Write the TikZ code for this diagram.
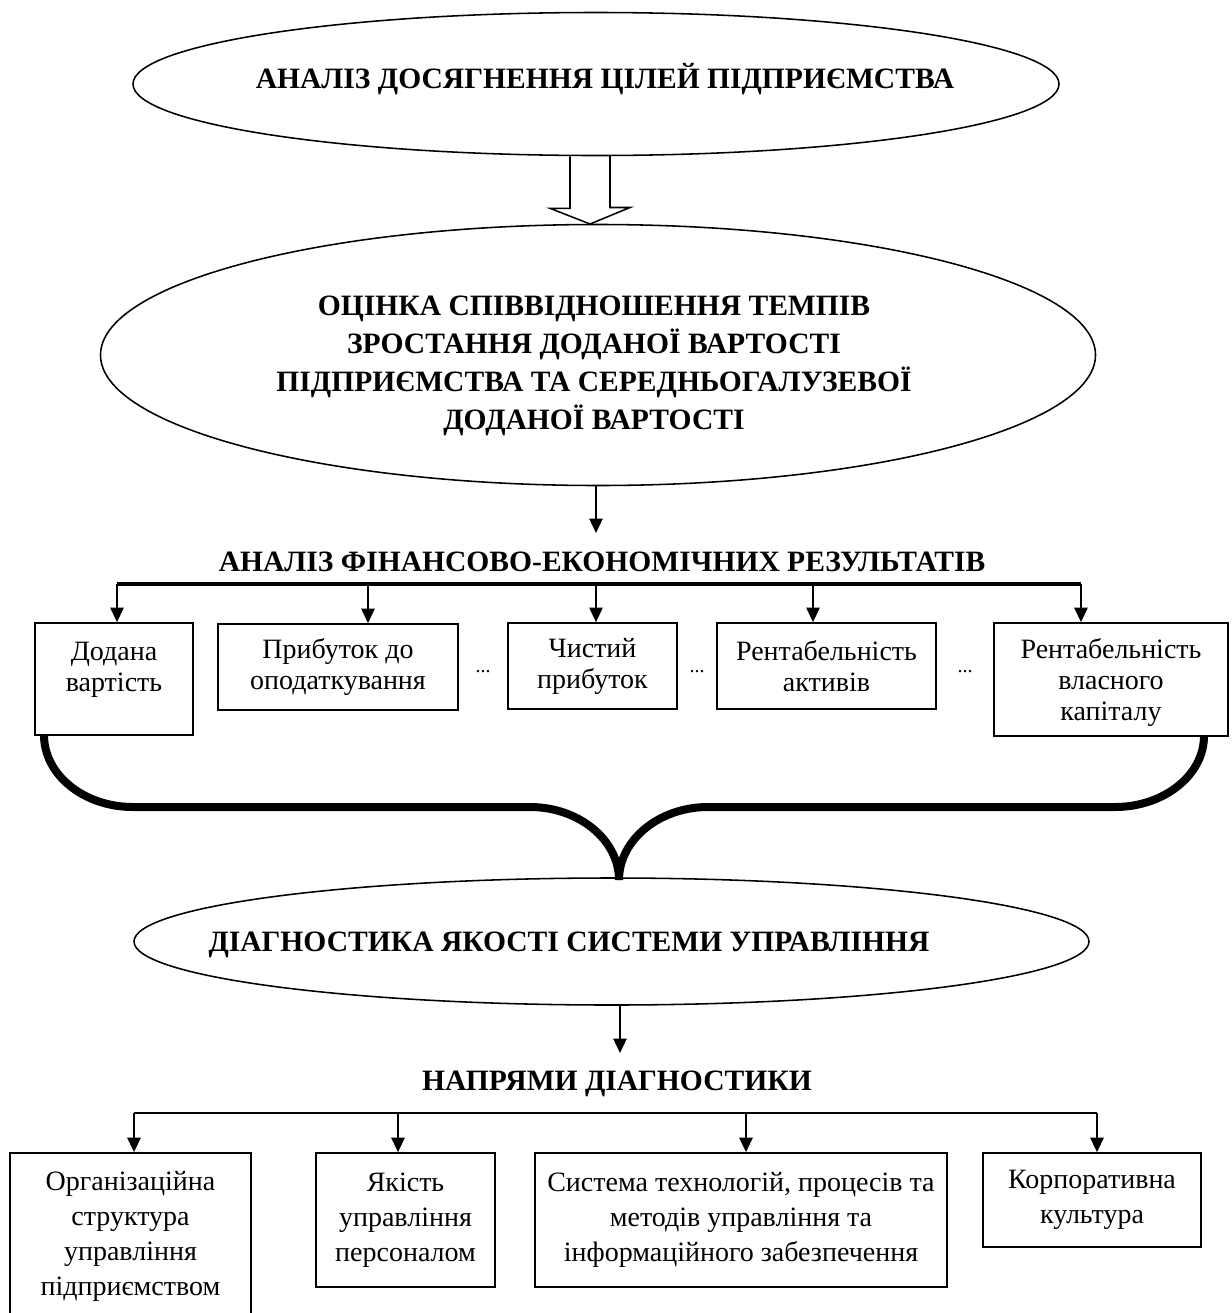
\documentclass[tikz,border=0pt]{standalone}
\usepackage{fontspec}
\setmainfont{Liberation Serif}[BoldFont={Liberation Serif Bold}]
\usetikzlibrary{arrows.meta,shapes.geometric}

\begin{document}
\begin{tikzpicture}[x=0.45pt,y=-0.45pt,>={Triangle[width=6pt,length=6.5pt]},
  line width=0.7pt,
  oval/.style={ellipse,draw,inner sep=0pt},
  head/.style={font=\fontsize{13.3}{17.1}\selectfont\bfseries,align=center,inner sep=0pt},
  boxa/.style={draw,line width=0.8pt,align=center,inner sep=0pt,
    font=\fontsize{12.6}{14}\selectfont},
  boxb/.style={boxa,font=\fontsize{12.6}{15.8}\selectfont},
  dots/.style={font=\fontsize{9}{9}\selectfont,inner sep=0pt},
  brace/.style={line width=3.6pt}]
  \useasboundingbox (0,0) rectangle (1231,1313);
  % goals and value added
  \node[oval,minimum width=416.7pt,minimum height=64.35pt] (e1) at (596,84) {};
  \node[head] (t1) at (605,79) {АНАЛІЗ ДОСЯГНЕННЯ ЦІЛЕЙ ПІДПРИЄМСТВА};
  \node[oval,minimum width=447.75pt,minimum height=117.45pt] (e2) at (598,355) {};
  \node[head] (t2) at (594,366) {ОЦІНКА СПІВВІДНОШЕННЯ ТЕМПІВ\\ЗРОСТАННЯ ДОДАНОЇ ВАРТОСТІ\\ПІДПРИЄМСТВА ТА СЕРЕДНЬОГАЛУЗЕВОЇ\\ДОДАНОЇ ВАРТОСТІ};
  \coordinate (ha) at (590,224);
  \draw (ha |- e1.south) ++(-20,0) -- ++(0,52) -- ++(-20,0) -- (ha)
    -- ++(40,-16.5) -- ++(-20,0) -- ++(0,-52);
  \coordinate (a3) at (596,533);
  \draw[->] (a3 |- e2.south) -- (a3);
  % financial results
  \node[head] (t3) at (602,562) {АНАЛІЗ ФІНАНСОВО-ЕКОНОМІЧНИХ РЕЗУЛЬТАТІВ};
  \node[boxa,minimum width=71.1pt,minimum height=50.4pt,text depth=11pt] (b1) at (114,679) {Додана\\вартість};
  \node[boxa,minimum width=108pt,minimum height=38.7pt] (b2) at (338,667) {Прибуток до\\оподаткування};
  \node[boxa,minimum width=76.05pt,minimum height=38.7pt] (b3) at (592.5,666) {Чистий\\прибуток};
  \node[boxa,minimum width=98.55pt,minimum height=38.7pt] (b4) at (826.5,666) {Рентабельність\\активів};
  \node[boxa,minimum width=105.3pt,minimum height=50.85pt,text depth=0pt] (b5) at (1111,679.5) {Рентабельність\\власного\\капіталу};
  \node[dots] (d1) at (483,672) {...};
  \node[dots] (d2) at (697,672) {...};
  \node[dots] (d3) at (965,672) {...};
  \foreach \nm/\xx in {b1/117,b2/368,b3/596,b4/813,b5/1081}{
    \coordinate (k\nm) at (\xx,584);
    \draw[->] (k\nm) -- (k\nm |- \nm.north);
  }
  \draw[line width=1.4pt] (kb1) -- (kb5);
  % brace
  \draw[brace] (44,735) .. controls (44,775) and (84,807) .. (133,807) -- (530,807)
    .. controls (579,807) and (619,840) .. (619,880);
  \draw[brace] (1204,736) .. controls (1204,775) and (1164,807) .. (1115,807) -- (708,807)
    .. controls (659,807) and (619,840) .. (619,880);
  % diagnostics
  \node[oval,minimum width=429.75pt,minimum height=57.15pt] (e3) at (611.5,941.5) {};
  \node[head] (t4) at (569,945) {ДІАГНОСТИКА ЯКОСТІ СИСТЕМИ УПРАВЛІННЯ};
  \coordinate (a5) at (620,1053);
  \draw[->] (a5 |- e3.south) -- (a5);
  \node[head] (t5) at (617,1084) {НАПРЯМИ ДІАГНОСТИКИ};
  \node[boxb,minimum width=108.45pt,minimum height=75.15pt] (c1) at (130.5,1236.5) {Організаційна\\структура\\управління\\підприємством};
  \node[boxb,minimum width=80.55pt,minimum height=60.3pt] (c2) at (405.5,1220) {Якість\\управління\\персоналом};
  \node[boxb,minimum width=185.4pt,minimum height=60.3pt] (c3) at (741,1220) {Система технологій, процесів та\\методів управління та\\інформаційного забезпечення};
  \node[boxb,minimum width=98.1pt,minimum height=42.3pt] (c4) at (1092,1200) {Корпоративна\\культура};
  \foreach \nm/\xx in {c1/134,c2/398,c3/746,c4/1097}{
    \coordinate (k\nm) at (\xx,1113);
    \draw[->,line width=0.8pt] (k\nm) -- (k\nm |- \nm.north);
  }
  \draw (kc1) -- (kc4);
\end{tikzpicture}
\end{document}
